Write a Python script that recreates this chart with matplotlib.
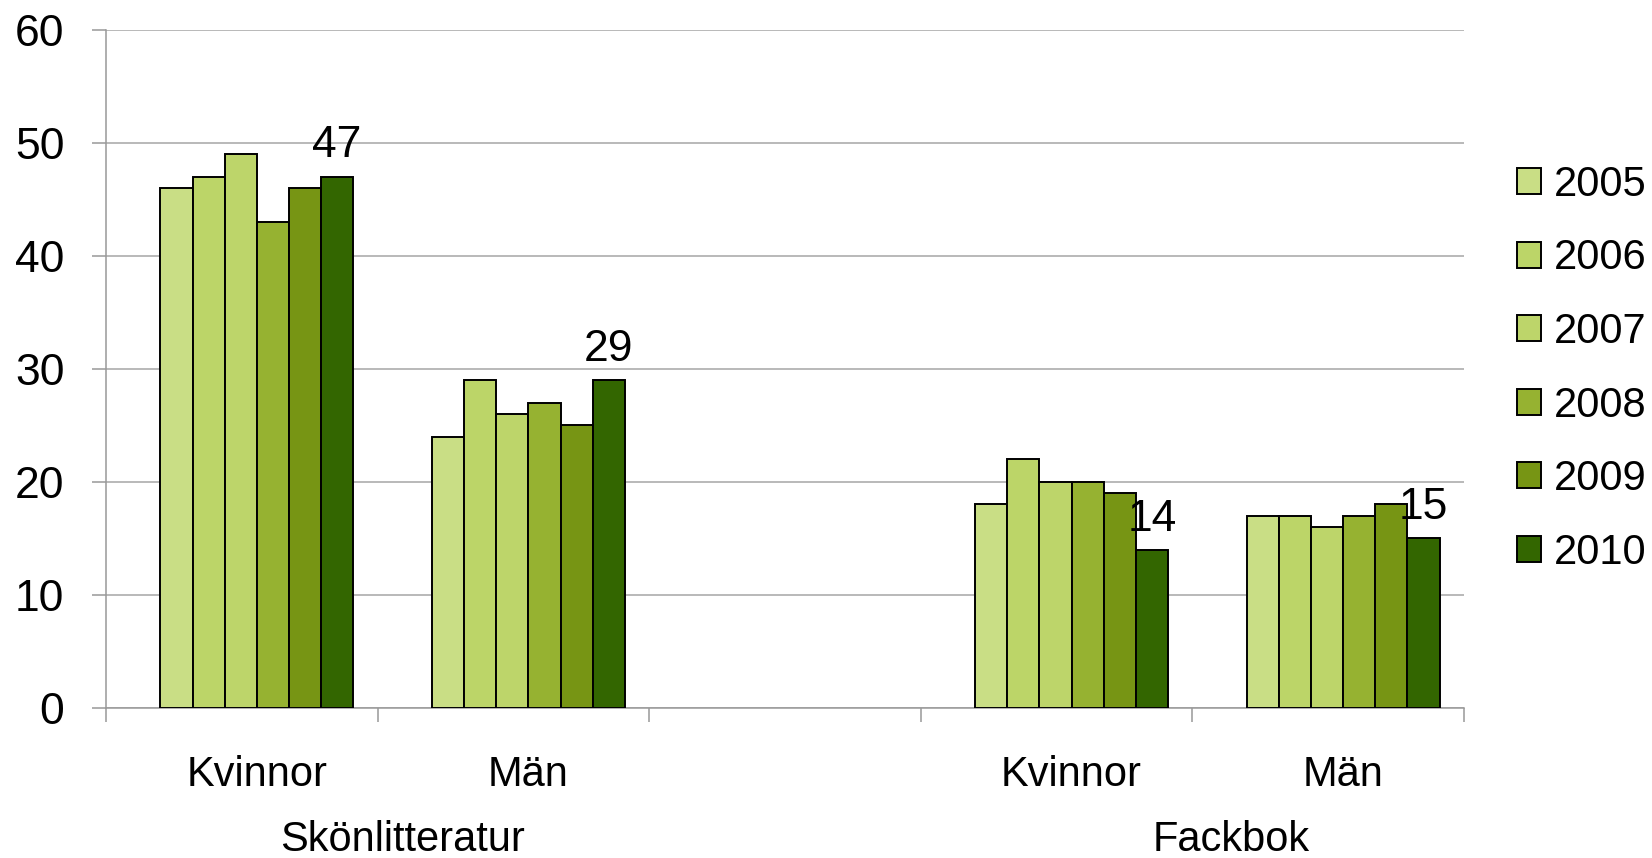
import matplotlib.pyplot as plt
import numpy as np

# Data
years = ['2005', '2006', '2007', '2008', '2009', '2010']
categories = ['Kvinnor', 'Män', '', 'Kvinnor', 'Män']
groups = ['Skönlitteratur', 'Fackbok']
values = {
    '2005': [46, 24, None, 18, 17],
    '2006': [47, 29, None, 22, 17],
    '2007': [49, 26, None, 20, 16],
    '2008': [43, 27, None, 20, 17],
    '2009': [46, 25, None, 19, 18],
    '2010': [47, 29, None, 14, 15],
}
colors = ['#C9DE85', '#BCD568', '#BDD56A', '#96B231', '#779514', '#336600']

plt.rcParams['font.family'] = ['Liberation Sans', 'DejaVu Sans']

fig = plt.figure(figsize=(16.52, 8.58), dpi=100)
ax = fig.add_axes([0.0642, 0.1748, 0.8220, 0.7908])

n = len(years)
bw = 0.1183
shift = 0.055
x = np.arange(len(categories)) + shift

for i, y in enumerate(years):
    vals = values[y]
    xs = [x[j] + (i - (n - 1) / 2) * bw for j in range(len(vals)) if vals[j] is not None]
    hs = [v for v in vals if v is not None]
    bars = ax.bar(xs, hs, width=bw, color=colors[i], edgecolor='black',
                  linewidth=1.4, label=y, zorder=3)
    if y == '2010':
        for b, h in zip(bars, hs):
            ax.annotate(str(h), (b.get_x() + b.get_width() / 2, h),
                        xytext=(0, 22), textcoords='offset points',
                        ha='center', va='center', fontsize=32, zorder=4)

ax.set_xlim(-0.5, len(categories) - 0.5)
ax.set_ylim(0, 60)
ax.set_yticks(range(0, 61, 10))
ax.tick_params(axis='y', labelsize=32, length=10, width=1.1, color='#999999', pad=20)
ax.set_xticks(np.arange(-0.5, len(categories), 1.0))
ax.set_xticklabels([])
ax.tick_params(axis='x', length=10, width=1.1, color='#999999')
ax.yaxis.grid(True, color='#A6A6A6', linewidth=1.1, zorder=0)
ax.set_axisbelow(True)
for s in ['top', 'right']:
    ax.spines[s].set_visible(False)
for s in ['left', 'bottom']:
    ax.spines[s].set_color('#999999')
    ax.spines[s].set_linewidth(1.1)

trans = ax.get_xaxis_transform()
for xi, c in zip(x, categories):
    if c:
        ax.text(xi, -0.099, c, transform=trans, ha='center', va='center',
                fontsize=30)
for gx, g in zip([0.593, 3.642], groups):
    ax.text(gx, -0.194, g, transform=trans, ha='center', va='center',
            fontsize=30)

ax.legend(loc='center left', bbox_to_anchor=(1.0265, 0.50), frameon=False,
          fontsize=30, handlelength=0.575, handleheight=0.575, handletextpad=0.33,
          labelspacing=0.805, borderaxespad=0)

fig.savefig('out.png', dpi=100)
